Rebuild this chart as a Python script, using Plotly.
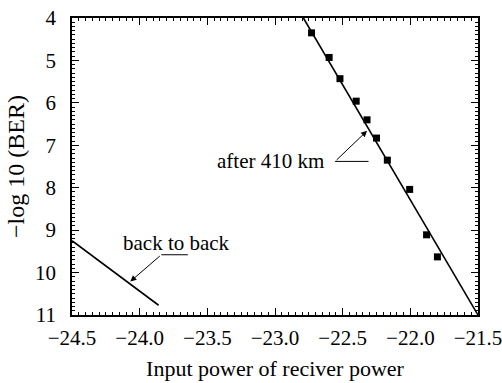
import plotly.graph_objects as go

# data
after_x = [-22.73, -22.60, -22.52, -22.40, -22.32, -22.25, -22.17, -22.005, -21.88, -21.80]
after_y = [4.35, 4.93, 5.43, 5.96, 6.40, 6.83, 7.35, 8.04, 9.11, 9.63]
fit_x = [-22.79, -21.5]
fit_y = [4.0, 11.0]
b2b_x = [-24.5, -23.86]
b2b_y = [9.25, 10.77]

x_ticks = [-24.5, -24.0, -23.5, -23.0, -22.5, -22.0, -21.5]
y_ticks = [4, 5, 6, 7, 8, 9, 10, 11]

# annotation geometry (text position, arrow tip, elbow, tail end)
lab_after = dict(text="after 410 km", tx=-23.03, ty=7.38, tip=(-22.32, 6.66), elbow=(-22.556, 7.38), tail=(-22.309, 7.38))
lab_b2b = dict(text="back to back", tx=-23.73, ty=9.30, tip=(-24.069, 10.21), elbow=(-23.84, 9.58), tail=(-23.644, 9.58))

FONT = "Liberation Serif"

fig = go.Figure()
fig.add_trace(go.Scatter(x=fit_x, y=fit_y, mode="lines", line=dict(color="black", width=1.6),
                         showlegend=False, hoverinfo="skip"))
fig.add_trace(go.Scatter(x=after_x, y=after_y, mode="markers",
                         marker=dict(symbol="square", size=7, color="black"), showlegend=False))
fig.add_trace(go.Scatter(x=b2b_x, y=b2b_y, mode="lines", line=dict(color="black", width=1.6),
                         showlegend=False, hoverinfo="skip"))

for lab in (lab_after, lab_b2b):
    fig.add_trace(go.Scatter(x=[lab["elbow"][0], lab["tail"][0]], y=[lab["elbow"][1], lab["tail"][1]],
                             mode="lines", line=dict(color="black", width=1), showlegend=False, hoverinfo="skip"))
    fig.add_annotation(x=lab["tip"][0], y=lab["tip"][1], ax=lab["elbow"][0], ay=lab["elbow"][1],
                       axref="x", ayref="y", xref="x", yref="y", text="", showarrow=True,
                       arrowhead=2, arrowsize=1.2, arrowwidth=1, arrowcolor="black")
    fig.add_annotation(x=lab["tx"], y=lab["ty"], text=lab["text"], showarrow=False,
                       font=dict(family=FONT, size=21, color="black"))

axis_common = dict(showline=True, linecolor="black", linewidth=1.5, mirror="ticks",
                   ticks="inside", ticklen=7, tickwidth=1.2, tickcolor="black",
                   showgrid=False, zeroline=False, automargin=False, ticklabeloverflow="allow",
                   tickfont=dict(family=FONT, size=21, color="black"))

fig.update_xaxes(range=[-24.5, -21.5], tickvals=x_ticks, tickformat=".1f",
                 minor=dict(dtick=0.05, ticks="inside", ticklen=3, tickcolor="black", showgrid=False),
                 title=dict(text="Input power of reciver power", font=dict(family=FONT, size=22, color="black"),
                            standoff=12),
                 ticklabelstandoff=3, **axis_common)
fig.update_yaxes(range=[11, 4], tickvals=y_ticks,
                 minor=dict(dtick=0.1, ticks="inside", ticklen=3, tickcolor="black", showgrid=False),
                 title=dict(text="−log 10 (BER)", font=dict(family=FONT, size=24, color="black"),
                            standoff=4),
                 ticklabelstandoff=10, **axis_common)

fig.update_layout(width=502, height=383, margin=dict(l=72, r=24, t=18, b=68),
                  plot_bgcolor="white", paper_bgcolor="white", showlegend=False)

fig.write_html("out.html")
